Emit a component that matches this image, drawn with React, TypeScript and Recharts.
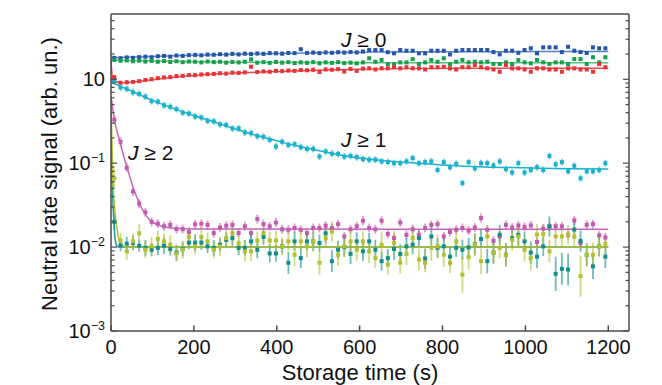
import {
  ComposedChart,
  Customized,
  ErrorBar,
  Line,
  Scatter,
  XAxis,
  YAxis,
} from "recharts";

const FONT = "'Liberation Sans', Arial, Helvetica, sans-serif";
const AXIS = "#4a4a4a";
const PLOT_LEFT = 111;
const PLOT_RIGHT = 629;

// storage times of the measurement points (s)
const TIME = [
  8, 23, 38, 53, 68, 83, 98, 113, 128, 143,
  158, 173, 188, 203, 218, 233, 248, 263, 278, 293,
  308, 323, 338, 353, 368, 383, 398, 413, 428, 443,
  458, 473, 488, 503, 518, 533, 548, 563, 578, 593,
  608, 623, 638, 653, 668, 683, 698, 713, 728, 743,
  758, 773, 788, 803, 818, 833, 848, 863, 878, 893,
  908, 923, 938, 953, 968, 983, 998, 1013, 1028, 1043,
  1058, 1073, 1088, 1103, 1118, 1133, 1148, 1163, 1178, 1193,
];

const BLUE = [
  1.8, 1.78, 1.82, 1.8, 1.84, 1.86, 1.83, 1.88, 1.9, 1.86,
  1.92, 1.9, 1.94, 1.95, 1.93, 1.97, 1.96, 1.99, 1.97, 2.01,
  1.98, 2.02, 2.0, 2.03, 2.01, 2.05, 2.04, 2.02, 2.06, 2.05,
  2.28, 2.06, 2.08, 2.05, 2.09, 2.07, 2.1, 2.08, 2.11, 2.09,
  2.14, 2.23, 2.23, 2.23, 2.1, 2.04, 2.23, 2.19, 2.19, 2.04,
  2.04, 2.19, 2.19, 2.19, 1.98, 2.19, 2.23, 2.23, 2.23, 2.23,
  2.23, 2.11, 1.98, 2.19, 2.19, 2.07, 2.23, 2.34, 2.04, 2.4,
  2.4, 2.4, 2.11, 2.44, 2.19, 2.11, 2.06, 2.4, 2.34, 2.34,
];

const GREEN = [
  1.7, 1.66, 1.68, 1.64, 1.67, 1.63, 1.66, 1.62, 1.65, 1.61,
  1.64, 1.6, 1.63, 1.62, 1.59, 1.63, 1.6, 1.62, 1.58, 1.61,
  1.59, 1.62, 1.73, 1.58, 1.6, 1.57, 1.61, 1.58, 1.6, 1.56,
  1.59, 1.57, 1.6, 1.55, 1.59, 1.57, 1.6, 1.56, 1.58, 1.55,
  1.59, 1.78, 1.62, 1.7, 1.51, 1.51, 1.59, 1.59, 1.74, 1.52,
  1.59, 1.7, 1.62, 1.78, 1.51, 1.62, 1.7, 1.59, 1.62, 1.59,
  1.62, 1.52, 1.52, 1.59, 1.52, 1.7, 1.59, 1.55, 1.7, 1.59,
  1.52, 1.59, 1.59, 1.52, 1.74, 1.74, 1.52, 1.83, 1.59, 1.83,
];

const RED = [
  1.06, 0.91, 0.92, 0.93, 0.95, 0.98, 1.0, 1.03, 1.05, 1.06,
  1.09, 1.1, 1.12, 1.12, 1.14, 1.15, 1.16, 1.18, 1.17, 1.2,
  1.19, 1.21, 1.41, 1.22, 1.24, 1.23, 1.26, 1.25, 1.27, 1.26,
  1.29, 1.28, 1.3, 1.22, 1.31, 1.3, 1.32, 1.24, 1.33, 1.26,
  1.34, 1.35, 1.31, 1.35, 1.35, 1.39, 1.35, 1.39, 1.35, 1.35,
  1.31, 1.39, 1.39, 1.41, 1.35, 1.31, 1.39, 1.39, 1.48, 1.39,
  1.35, 1.31, 1.23, 1.48, 1.35, 1.35, 1.31, 1.23, 1.35, 1.35,
  1.31, 1.31, 1.23, 1.35, 1.35, 1.31, 1.31, 1.23, 1.52, 1.39,
];

const CYAN = [
  0.95, 0.8, 0.77, 0.7, 0.67, 0.62, 0.55, 0.54, 0.49, 0.47,
  0.44, 0.4, 0.39, 0.36, 0.35, 0.32, 0.315, 0.29, 0.285, 0.26,
  0.26, 0.232, 0.228, 0.21, 0.206, 0.19, 0.158, 0.18, 0.165, 0.168,
  0.155, 0.148, 0.148, 0.12, 0.138, 0.13, 0.129, 0.12, 0.122, 0.118,
  0.112, 0.11, 0.11, 0.105, 0.103, 0.1, 0.1, 0.105, 0.115, 0.1,
  0.103, 0.105, 0.083, 0.103, 0.0895, 0.098, 0.058, 0.103, 0.087, 0.1,
  0.1, 0.094, 0.105, 0.085, 0.0774, 0.1, 0.0774, 0.083, 0.0895, 0.083,
  0.122, 0.097, 0.103, 0.08, 0.093, 0.066, 0.08, 0.08, 0.083, 0.1,
];

const MAGENTA = [
  0.33, 0.18, 0.088, 0.046, 0.033, 0.026, 0.02, 0.019, 0.0177, 0.0184,
  0.0164, 0.0164, 0.0151, 0.0187, 0.019, 0.0184, 0.0147, 0.0171, 0.018, 0.0184,
  0.0147, 0.0177, 0.0147, 0.0216, 0.0188, 0.0177, 0.0196, 0.0163, 0.0161, 0.0169,
  0.0161, 0.0147, 0.0169, 0.0169, 0.018, 0.0169, 0.0188, 0.0134, 0.0163, 0.0177,
  0.0206, 0.0169, 0.0163, 0.0206, 0.0143, 0.0128, 0.0196, 0.014, 0.0163, 0.014,
  0.0169, 0.0184, 0.0188, 0.0134, 0.0151, 0.0161, 0.0169, 0.0157, 0.0171, 0.0222,
  0.0161, 0.0119, 0.0134, 0.0184, 0.0171, 0.0181, 0.0174, 0.0181, 0.0115, 0.0166,
  0.0177, 0.0177, 0.0177, 0.014, 0.0208, 0.0112, 0.0184, 0.0188, 0.0138, 0.013,
];

const TEAL = [
  0.02, 0.0105, 0.011, 0.0112, 0.0104, 0.0098, 0.0093, 0.0098, 0.0104, 0.0095,
  0.0086, 0.0095, 0.0113, 0.0113, 0.0113, 0.0102, 0.0098, 0.0107, 0.0122, 0.0128,
  0.0098, 0.0098, 0.0117, 0.0093, 0.0132, 0.0084, 0.0084, 0.0102, 0.0065, 0.0117,
  0.0074, 0.0117, 0.0117, 0.0112, 0.0146, 0.0068, 0.0093, 0.01, 0.0083, 0.0117,
  0.0089, 0.0117, 0.0093, 0.0068, 0.0074, 0.0095, 0.0083, 0.0102, 0.0107, 0.0128,
  0.0073, 0.0134, 0.0098, 0.0102, 0.0077, 0.0098, 0.0093, 0.0099, 0.0108, 0.0125,
  0.0068, 0.0086, 0.014, 0.0081, 0.0128, 0.014, 0.0117, 0.0086, 0.0077, 0.0102,
  0.0176, 0.0048, 0.0055, 0.0054, 0.0162, 0.0118, 0.0081, 0.0059, 0.0102, 0.0077,
];

const YELLOW = [
  0.066, 0.012, 0.0089, 0.0117, 0.0146, 0.0093, 0.0102, 0.0125, 0.0117, 0.0107,
  0.0084, 0.0093, 0.0132, 0.0102, 0.0132, 0.0117, 0.0093, 0.0102, 0.0128, 0.0146,
  0.011, 0.0089, 0.0089, 0.012, 0.0146, 0.012, 0.012, 0.0102, 0.0117, 0.0081,
  0.0117, 0.0102, 0.0117, 0.0065, 0.0128, 0.0153, 0.0081, 0.0102, 0.0117, 0.0093,
  0.0117, 0.0089, 0.0074, 0.0107, 0.0062, 0.0112, 0.0065, 0.0083, 0.0128, 0.0071,
  0.0065, 0.0098, 0.0102, 0.0081, 0.0065, 0.0117, 0.0047, 0.0076, 0.0107, 0.0068,
  0.0134, 0.0086, 0.0098, 0.008, 0.0122, 0.0134, 0.0093, 0.0074, 0.0141, 0.0143,
  0.0089, 0.0134, 0.0134, 0.0141, 0.0134, 0.0045, 0.0081, 0.0081, 0.0102, 0.0109,
];

// relative error bar half-sizes for the noisy J >= 2 channels
const TEAL_ERR = [
  0.25, 0.18, 0.2, 0.22, 0.18, 0.24, 0.2, 0.22, 0.26, 0.2,
  0.24, 0.22, 0.2, 0.26, 0.22, 0.2, 0.24, 0.2, 0.22, 0.26,
  0.22, 0.24, 0.2, 0.26, 0.24, 0.28, 0.26, 0.22, 0.35, 0.3,
  0.32, 0.28, 0.3, 0.26, 0.3, 0.35, 0.28, 0.3, 0.32, 0.28,
  0.3, 0.26, 0.32, 0.3, 0.28, 0.35, 0.3, 0.26, 0.3, 0.24,
  0.32, 0.28, 0.3, 0.26, 0.3, 0.28, 0.32, 0.3, 0.35, 0.28,
  0.4, 0.35, 0.32, 0.38, 0.3, 0.34, 0.3, 0.36, 0.38, 0.3,
  0.32, 0.6, 0.55, 0.55, 0.3, 0.34, 0.36, 0.42, 0.3, 0.36,
];

const YELLOW_ERR = [
  0.3, 0.22, 0.26, 0.24, 0.28, 0.25, 0.3, 0.26, 0.24, 0.3,
  0.26, 0.28, 0.3, 0.24, 0.32, 0.28, 0.26, 0.3, 0.28, 0.3,
  0.26, 0.32, 0.3, 0.28, 0.3, 0.26, 0.32, 0.28, 0.3, 0.38,
  0.3, 0.34, 0.32, 0.4, 0.3, 0.32, 0.36, 0.34, 0.3, 0.35,
  0.32, 0.38, 0.3, 0.42, 0.32, 0.4, 0.34, 0.36, 0.4, 0.35,
  0.3, 0.42, 0.38, 0.4, 0.32, 0.36, 0.65, 0.4, 0.36, 0.42,
  0.34, 0.38, 0.32, 0.36, 0.34, 0.3, 0.38, 0.4, 0.34, 0.32,
  0.36, 0.3, 0.32, 0.3, 0.32, 0.75, 0.38, 0.4, 0.34, 0.32,
];

// fitted curves [time, value]
const BLUE_FIT = [[0, 1.8], [100, 1.87], [200, 1.94], [300, 1.99], [400, 2.03], [500, 2.07], [600, 2.1], [700, 2.12], [850, 2.13], [1200, 2.14]];
const GREEN_FIT = [[0, 1.7], [100, 1.65], [200, 1.62], [300, 1.6], [450, 1.58], [600, 1.57], [1200, 1.57]];
const RED_FIT = [[0, 1.75], [2, 1.2], [5, 1.0], [10, 0.94], [20, 0.915], [35, 0.91], [60, 0.935], [100, 0.99], [150, 1.06], [200, 1.11], [300, 1.185], [400, 1.24], [500, 1.285], [600, 1.32], [700, 1.34], [850, 1.35], [1200, 1.355]];
const CYAN_FIT = [[0, 1.05], [5, 0.93], [20, 0.84], [50, 0.72], [100, 0.56], [150, 0.45], [200, 0.37], [250, 0.31], [300, 0.255], [350, 0.215], [400, 0.185], [450, 0.16], [500, 0.142], [550, 0.126], [600, 0.115], [700, 0.103], [800, 0.095], [900, 0.09], [1000, 0.088], [1100, 0.086], [1200, 0.085]];
const MAGENTA_FIT = [[0, 0.62], [5, 0.42], [10, 0.3], [20, 0.19], [30, 0.125], [40, 0.085], [50, 0.058], [60, 0.042], [70, 0.032], [80, 0.026], [90, 0.022], [100, 0.0198], [120, 0.0178], [140, 0.017], [170, 0.0166], [220, 0.0164], [1200, 0.0163]];
const TEAL_FIT = [[0, 0.3], [2, 0.09], [4, 0.04], [7, 0.02], [10, 0.0125], [14, 0.0104], [20, 0.01], [1200, 0.01]];
const YELLOW_FIT = [[0, 0.55], [2, 0.2], [4, 0.075], [7, 0.038], [11, 0.023], [15, 0.016], [23, 0.0107], [35, 0.0101], [60, 0.01], [1200, 0.01]];

const X_TICKS = [0, 200, 400, 600, 800, 1000, 1200];
const MAJOR_Y = [0.001, 0.01, 0.1, 1];
const Y_TICKS = [
  0.001, 0.002, 0.003, 0.004, 0.005, 0.006, 0.007, 0.008, 0.009,
  0.01, 0.02, 0.03, 0.04, 0.05, 0.06, 0.07, 0.08, 0.09,
  0.1, 0.2, 0.3, 0.4, 0.5, 0.6, 0.7, 0.8, 0.9,
  1, 2, 3, 4, 5,
];
const SUP: Record<string, string> = { "0.001": "−3", "0.01": "−2", "0.1": "−1" };

const points = (vals: number[], rel: number[] | number) =>
  TIME.map((t, i) => {
    const v = vals[i];
    const f = 1 + (Array.isArray(rel) ? rel[i] : rel);
    return { x: t, y: v, e: [v - v / f, v * f - v] };
  });

const curve = (pairs: number[][]) => pairs.map(([x, y]) => ({ x, y }));

const SERIES = [
  { key: "blue", color: "#2556ab", line: "#5a7fc6", pts: points(BLUE, 0.05), fit: curve(BLUE_FIT) },
  { key: "green", color: "#17a04a", line: "#57bf7c", pts: points(GREEN, 0.05), fit: curve(GREEN_FIT) },
  { key: "red", color: "#ea3338", line: "#ec4a4e", pts: points(RED, 0.05), fit: curve(RED_FIT) },
  { key: "cyan", color: "#18b2cf", line: "#18b2cf", pts: points(CYAN, 0.1), fit: curve(CYAN_FIT) },
  { key: "magenta", color: "#c457b1", line: "#c865b8", pts: points(MAGENTA, 0.13), fit: curve(MAGENTA_FIT) },
  { key: "teal", color: "#0f8e8b", line: "#1a9a96", pts: points(TEAL, TEAL_ERR), fit: curve(TEAL_FIT) },
  { key: "yellow", color: "#b4c02e", line: "#b2bf2c", pts: points(YELLOW, YELLOW_ERR), fit: curve(YELLOW_FIT) },
];

function LeftTick({ y, payload }: any) {
  const v = payload.value;
  const major = MAJOR_Y.includes(v);
  return (
    <g>
      <line x1={PLOT_LEFT} x2={PLOT_LEFT + (major ? 6 : 3.5)} y1={y} y2={y} stroke={AXIS} strokeWidth={1.2} />
      {major && (
        <text x={PLOT_LEFT - 6} y={y + 6.5} textAnchor="end" fontSize={20} fill="#111" fontFamily={FONT}>
          10
          {SUP[String(v)] && (
            <tspan dy={-8} fontSize={12.5}>
              {SUP[String(v)]}
            </tspan>
          )}
        </text>
      )}
    </g>
  );
}

function RightTick({ y, payload }: any) {
  const major = MAJOR_Y.includes(payload.value);
  return <line x1={PLOT_RIGHT - (major ? 6 : 3.5)} x2={PLOT_RIGHT} y1={y} y2={y} stroke={AXIS} strokeWidth={1.2} />;
}

function Annotations() {
  return (
    <g fontFamily={FONT} fill="#111">
      <text x={341} y={47} fontSize={21}>
        <tspan fontStyle="italic">J</tspan> ≥ 0
      </text>
      <text x={341} y={147} fontSize={21}>
        <tspan fontStyle="italic">J</tspan> ≥ 1
      </text>
      <text x={128} y={160} fontSize={21}>
        <tspan fontStyle="italic">J</tspan> ≥ 2
      </text>
      <text x={360} y={380} fontSize={22} textAnchor="middle">
        Storage time (s)
      </text>
      <text transform="translate(57,174) rotate(-90)" fontSize={22} textAnchor="middle">
        Neutral rate signal (arb. un.)
      </text>
    </g>
  );
}

const square = (color: string) => (p: any) =>
  <rect x={p.cx - 2} y={p.cy - 2} width={4} height={4} fill={color} />;

export default function App() {
  return (
    <div style={{ position: "fixed", left: 0, top: 0, width: 662, height: 385, background: "#fff" }}>
      <ComposedChart width={662} height={385} margin={{ top: 0, right: 0, bottom: 0, left: 0 }}>
        <XAxis
          dataKey="x"
          type="number"
          domain={[0, 1250]}
          ticks={X_TICKS}
          allowDataOverflow
          height={54}
          tickSize={-5.5}
          tickMargin={14.5}
          interval={0}
          stroke={AXIS}
          strokeWidth={1.5}
          tick={{ fontSize: 20, fill: "#111", fontFamily: FONT }}
        />
        <XAxis
          xAxisId="top"
          orientation="top"
          dataKey="x"
          type="number"
          domain={[0, 1250]}
          ticks={X_TICKS}
          allowDataOverflow
          height={14}
          tickSize={-5.5}
          interval={0}
          stroke={AXIS}
          strokeWidth={1.5}
          tick={false}
        />
        <YAxis
          dataKey="y"
          type="number"
          scale="log"
          domain={[0.001, 6]}
          ticks={Y_TICKS}
          allowDataOverflow
          interval={0}
          width={111}
          tickLine={false}
          stroke={AXIS}
          strokeWidth={1.5}
          tick={<LeftTick />}
        />
        <YAxis
          yAxisId="right"
          orientation="right"
          dataKey="y"
          type="number"
          scale="log"
          domain={[0.001, 6]}
          ticks={Y_TICKS}
          allowDataOverflow
          interval={0}
          width={33}
          tickLine={false}
          stroke={AXIS}
          strokeWidth={1.5}
          tick={<RightTick />}
        />

        {SERIES.map((s) => (
          <Scatter key={s.key + "-pts"} data={s.pts} dataKey="y" shape={square(s.color)} isAnimationActive={false}>
            <ErrorBar dataKey="e" direction="y" width={0} stroke={s.color} strokeWidth={1.8} strokeOpacity={0.6} />
          </Scatter>
        ))}
        {SERIES.map((s) => (
          <Line
            key={s.key + "-fit"}
            data={s.fit}
            dataKey="y"
            type="monotone"
            stroke={s.line}
            strokeWidth={1.5}
            dot={false}
            activeDot={false}
            isAnimationActive={false}
          />
        ))}
        <Customized component={Annotations} />
      </ComposedChart>
    </div>
  );
}
